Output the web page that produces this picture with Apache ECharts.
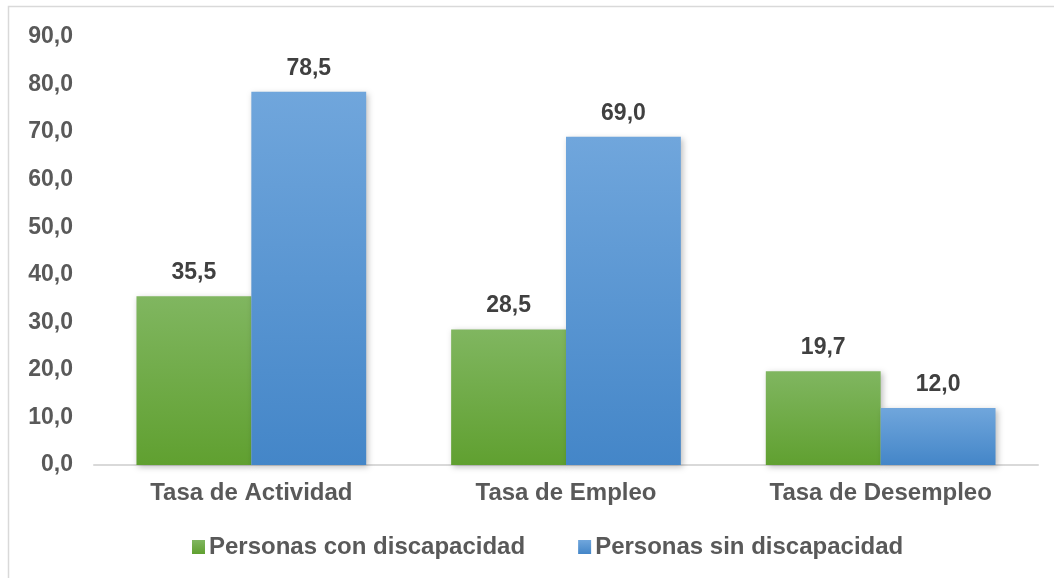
<!DOCTYPE html>
<html>
<head>
<meta charset="utf-8">
<script src="https://cdn.jsdelivr.net/npm/echarts@6/dist/echarts.min.js"></script>
<style>
    html, body { margin: 0; padding: 0; background: #fff; }
    #chart { width: 1054px; height: 578px; }
</style>
</head>
<body>
<div id="chart"></div>
<script>
// datos del gráfico
var categorias = ['Tasa de Actividad', 'Tasa de Empleo', 'Tasa de Desempleo'];
var conDiscapacidad = [35.5, 28.5, 19.7];
var sinDiscapacidad = [78.5, 69.0, 12.0];
var nombresSeries = ['Personas con discapacidad', 'Personas sin discapacidad'];

// formato con coma decimal
function coma(v) {
    return Number(v).toFixed(1).replace('.', ',');
}

function degradado(arriba, abajo) {
    return new echarts.graphic.LinearGradient(0, 0, 0, 1, [
        { offset: 0, color: arriba },
        { offset: 1, color: abajo }
    ]);
}

var chart = echarts.init(document.getElementById('chart'));
var etiqueta = {
    show: true,
    position: 'top',
    distance: 12,
    color: '#404040',
    fontFamily: 'Liberation Sans',
    fontWeight: 'bold',
    fontSize: 23,
    formatter: function (p) { return coma(p.value); }
};

chart.setOption({
    animation: false,
    textStyle: { fontFamily: 'Liberation Sans' },
    graphic: [{
        type: 'rect',
        shape: { x: 8.5, y: 6.5, width: 1060, height: 600 },
        style: { fill: 'none', stroke: '#d9d9d9', lineWidth: 1.5 },
        silent: true
    }],
    grid: { left: 94, right: 16, top: 37, bottom: 113 },
    legend: {
        top: 530,
        left: 187,
        itemWidth: 13,
        itemHeight: 14,
        itemGap: 53,
        icon: 'rect',
        textStyle: {
            color: '#595959',
            fontSize: 24,
            fontWeight: 'bold',
            fontFamily: 'Liberation Sans',
            padding: [0, 0, 0, -1]
        },
        data: nombresSeries
    },
    xAxis: {
        type: 'category',
        data: categorias,
        axisLine: { lineStyle: { color: '#d9d9d9', width: 2 } },
        axisTick: { show: false },
        axisLabel: {
            color: '#595959',
            fontSize: 24,
            fontWeight: 'bold',
            margin: 16
        }
    },
    yAxis: {
        type: 'value',
        min: 0,
        max: 90,
        interval: 10,
        splitLine: { show: false },
        axisLine: { show: false },
        axisTick: { show: false },
        axisLabel: {
            color: '#595959',
            fontSize: 23,
            fontWeight: 'bold',
            margin: 21,
            formatter: coma
        }
    },
    series: [
        {
            name: nombresSeries[0],
            type: 'bar',
            data: conDiscapacidad,
            barGap: '0%',
            barCategoryGap: '27%',
            itemStyle: {
                color: degradado('#80b660', '#60a030'),
                shadowColor: 'rgba(0,0,0,0.25)',
                shadowBlur: 6,
                shadowOffsetX: 2,
                shadowOffsetY: 2
            },
            label: etiqueta
        },
        {
            name: nombresSeries[1],
            type: 'bar',
            data: sinDiscapacidad,
            itemStyle: {
                color: degradado('#70a6dc', '#4486c8'),
                shadowColor: 'rgba(0,0,0,0.25)',
                shadowBlur: 6,
                shadowOffsetX: 2,
                shadowOffsetY: 2
            },
            label: etiqueta
        }
    ]
});
</script>
</body>
</html>
